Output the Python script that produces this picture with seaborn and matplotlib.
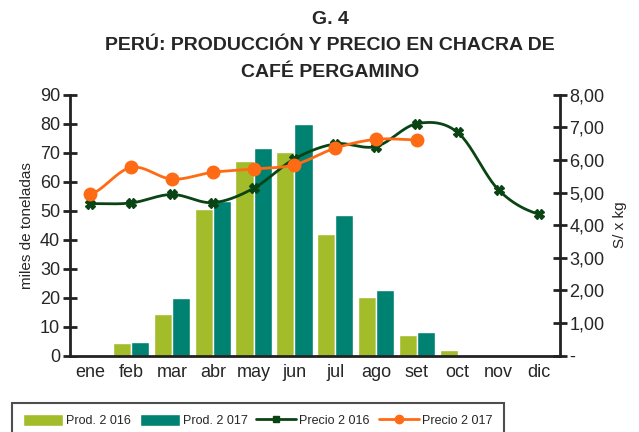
import numpy as np
import pandas as pd
import seaborn as sns
import matplotlib.pyplot as plt
from matplotlib.lines import Line2D
from matplotlib.patches import Patch

# datos
meses = ['ene', 'feb', 'mar', 'abr', 'may', 'jun', 'jul', 'ago', 'set', 'oct', 'nov', 'dic']
prod_2016 = [0.2, 4.4, 14.4, 50.7, 67.1, 70.2, 42.0, 20.3, 7.2, 2.1, 0, 0]
prod_2017 = [0, 4.7, 19.9, 53.3, 71.6, 79.9, 48.6, 22.7, 8.3]
precio_2016 = [4.66, 4.68, 4.94, 4.69, 5.13, 6.03, 6.49, 6.41, 7.11, 6.84, 5.08, 4.33]
precio_2017 = [4.94, 5.77, 5.41, 5.62, 5.72, 5.85, 6.36, 6.63, 6.61]

c16 = '#a2bc2a'
c17 = '#008272'
cp16 = '#0a4414'
cp17 = '#ff6a14'

sns.set_style('white')
plt.rcParams['font.family'] = ['Liberation Sans', 'DejaVu Sans']


def suavizar(y, n=25):
    # curva suavizada tipo Excel (bezier catmull-rom) solo para el trazo
    y = np.asarray(y, dtype=float)
    x = np.arange(len(y), dtype=float)
    xs, ys = [], []
    for i in range(len(y) - 1):
        y0 = y[i - 1] if i > 0 else y[i]
        y3 = y[i + 2] if i + 2 < len(y) else y[i + 1]
        p0, p3 = y[i], y[i + 1]
        p1 = p0 + (p3 - y0) / 6
        p2 = p3 - (y3 - p0) / 6
        t = np.linspace(0, 1, n)
        ys.extend((1 - t) ** 3 * p0 + 3 * (1 - t) ** 2 * t * p1 + 3 * (1 - t) * t ** 2 * p2 + t ** 3 * p3)
        xs.extend(x[i] + t)
    return pd.DataFrame({'x': xs, 'y': ys})


df = pd.DataFrame({
    'mes': meses * 2,
    'anio': ['Prod. 2 016'] * 12 + ['Prod. 2 017'] * 12,
    'valor': prod_2016 + prod_2017 + [0] * (12 - len(prod_2017)),
})

fig = plt.figure(figsize=(6.39, 4.32), dpi=100)
ax = fig.add_axes([0.1095, 0.1766, 0.7665, 0.6044])
sns.barplot(data=df, x='mes', y='valor', hue='anio', palette=[c16, c17],
            width=0.89, gap=0, saturation=1, ax=ax, legend=False)
ax.set_ylim(0, 90)
ax.set_xlim(-0.5, 11.5)
ax.set_yticks(range(0, 91, 10))
ax.set_xlabel('')
ax.set_ylabel('miles de toneladas', fontsize=11)
ax.set_xticks(np.arange(12))
ax.set_xticklabels(meses)
ax.set_xticks(np.arange(-0.5, 12, 1), minor=True)
ax.tick_params(axis='x', which='major', length=0, labelsize=13, pad=6)
ax.tick_params(axis='x', which='minor', length=10, width=2, direction='inout', color='#222222')
ax.tick_params(axis='y', length=10, width=2, direction='inout', labelsize=13, color='#222222', pad=2)
for s in ['top', 'right']:
    ax.spines[s].set_visible(False)
for s in ['left', 'bottom']:
    ax.spines[s].set_linewidth(2)
    ax.spines[s].set_color('#222222')

ax2 = ax.twinx()
s16 = suavizar(precio_2016)
s17 = suavizar(precio_2017)
sns.lineplot(data=s16, x='x', y='y', color=cp16, lw=2, ax=ax2)
sns.lineplot(data=s17, x='x', y='y', color=cp17, lw=2, ax=ax2)
ax2.plot(np.arange(len(precio_2016)), precio_2016, ls='none', marker='X', ms=7,
         color=cp16, mec=cp16)
ax2.plot(np.arange(len(precio_2017)), precio_2017, ls='none', marker='o', ms=9,
         color=cp17, mec=cp17)
ax2.set_ylim(0, 8)
ax2.set_yticks(range(0, 9))
ax2.set_yticklabels(['-'] + [f'{v},00' for v in range(1, 9)])
ax2.set_ylabel('S/ x kg', fontsize=11, labelpad=6)
ax2.set_xlabel('')
ax2.tick_params(axis='y', length=10, width=2, direction='inout', labelsize=13, color='#222222', pad=2)
for s in ['top', 'left', 'bottom']:
    ax2.spines[s].set_visible(False)
ax2.spines['right'].set_linewidth(2)
ax2.spines['right'].set_color('#222222')

fig.text(0.517, 0.955, 'G. 4', ha='center', va='center', fontsize=14, fontweight='bold')
fig.text(0.517, 0.895, 'PERÚ: PRODUCCIÓN Y PRECIO EN CHACRA DE', ha='center', va='center',
         fontsize=14, fontweight='bold')
fig.text(0.517, 0.833, 'CAFÉ PERGAMINO', ha='center', va='center', fontsize=14, fontweight='bold')

handles = [
    Patch(facecolor=c16, label='Prod. 2 016'),
    Patch(facecolor=c17, label='Prod. 2 017'),
    Line2D([], [], color=cp16, lw=2, marker='s', ms=5, label='Precio 2 016'),
    Line2D([], [], color=cp17, lw=2, marker='o', ms=6, label='Precio 2 017'),
]
leg = fig.legend(handles=handles, loc='upper left', bbox_to_anchor=(0.018, 0.068), ncol=4,
                 fontsize=9, frameon=True, fancybox=False, borderpad=0.9,
                 handlelength=3.2, handleheight=1.1, columnspacing=0.7, handletextpad=0.25,
                 borderaxespad=0)
leg.get_frame().set_edgecolor('#222222')
leg.get_frame().set_linewidth(1.5)

fig.savefig('out.png', dpi=100)
